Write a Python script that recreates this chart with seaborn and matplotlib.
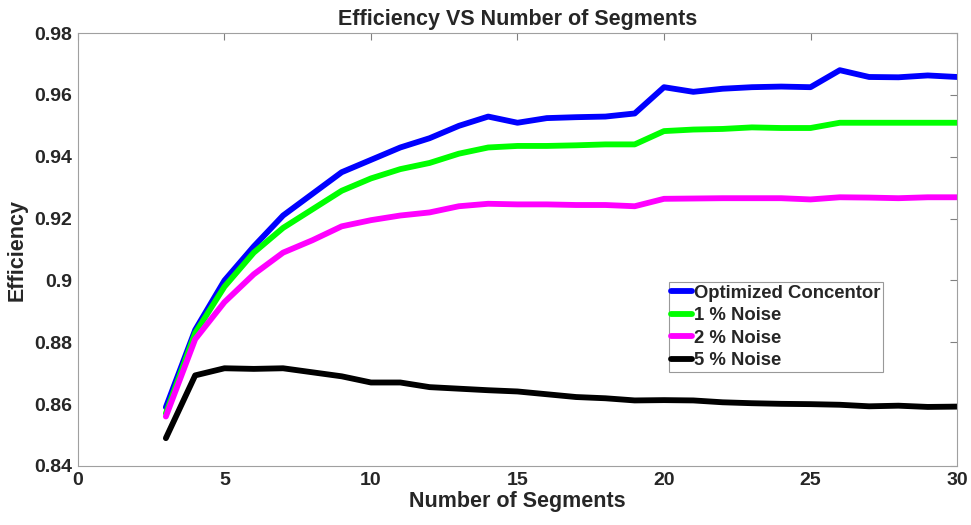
import numpy as np
import pandas as pd
import matplotlib
matplotlib.use("Agg")
import matplotlib.pyplot as plt
import seaborn as sns

segments = list(range(3, 31))
optimized = [0.859, 0.884, 0.900, 0.911, 0.921, 0.928, 0.935, 0.939, 0.943, 0.946,
             0.950, 0.953, 0.951, 0.9525, 0.9528, 0.953, 0.954, 0.9625, 0.961, 0.962,
             0.9625, 0.9627, 0.9625, 0.968, 0.9658, 0.9657, 0.9663, 0.9658]
noise1 = [0.857, 0.883, 0.898, 0.909, 0.917, 0.923, 0.929, 0.933, 0.936, 0.938,
          0.941, 0.943, 0.9435, 0.9435, 0.9437, 0.944, 0.944, 0.9483, 0.9488, 0.949,
          0.9495, 0.9493, 0.9493, 0.951, 0.951, 0.951, 0.951, 0.951]
noise2 = [0.856, 0.881, 0.893, 0.902, 0.909, 0.913, 0.9175, 0.9195, 0.921, 0.922,
          0.924, 0.9248, 0.9246, 0.9246, 0.9244, 0.9244, 0.924, 0.9264, 0.9265, 0.9266,
          0.9266, 0.9266, 0.9262, 0.9269, 0.9268, 0.9266, 0.9269, 0.9269]
noise5 = [0.849, 0.8693, 0.8716, 0.8714, 0.8716, 0.8703, 0.869, 0.867, 0.867, 0.8655,
          0.8650, 0.8645, 0.8641, 0.8632, 0.8623, 0.8619, 0.8612, 0.8613, 0.8612, 0.8606,
          0.8603, 0.8601, 0.8600, 0.8598, 0.8593, 0.8595, 0.8591, 0.8592]
series_names = ["Optimized Concentor", "1 % Noise", "2 % Noise", "5 % Noise"]
colors = ["#0000ff", "#00ff00", "#ff00ff", "#000000"]
x_ticks = [0, 5, 10, 15, 20, 25, 30]
y_ticks = [0.84, 0.86, 0.88, 0.90, 0.92, 0.94, 0.96, 0.98]
y_tick_labels = ["0.84", "0.86", "0.88", "0.9", "0.92", "0.94", "0.96", "0.98"]

frames = []
for name, vals in zip(series_names, [optimized, noise1, noise2, noise5]):
    frames.append(pd.DataFrame({"Segments": segments, "Efficiency": vals, "Series": name}))
df = pd.concat(frames, ignore_index=True)

sns.set_theme(style="white")
plt.rcParams['font.family'] = ['Liberation Sans', 'DejaVu Sans']
plt.rcParams['font.weight'] = 'bold'

fig = plt.figure(figsize=(9.71, 5.25), dpi=100)
ax = fig.add_axes([0.0803, 0.1124, 0.9053, 0.8246])

sns.lineplot(data=df, x="Segments", y="Efficiency", hue="Series",
             hue_order=series_names, palette=colors, linewidth=4.2, ax=ax)

ax.set_xlim(0, 30)
ax.set_ylim(0.84, 0.98)
ax.set_xticks(x_ticks)
ax.set_yticks(y_ticks)
ax.set_yticklabels(y_tick_labels)
ax.tick_params(direction="in", length=5, width=0.8, color="#808080",
               top=True, right=True, labelsize=14, pad=4, labelcolor="#262626")
for lab in ax.get_xticklabels() + ax.get_yticklabels():
    lab.set_fontweight("bold")
for s in ax.spines.values():
    s.set_color("#a0a0a0")
    s.set_linewidth(0.8)

ax.set_xlabel("Number of Segments", fontsize=15.5, fontweight="bold", color="#262626", labelpad=2)
ax.set_ylabel("Efficiency", fontsize=15.5, fontweight="bold", color="#262626", labelpad=5)
ax.set_title("Efficiency VS Number of Segments", fontsize=15.5, fontweight="bold", pad=6)

leg = ax.legend(loc="upper left", bbox_to_anchor=(0.672, 0.425), fontsize=13.3,
                handlelength=1.1, handletextpad=0.1, borderpad=0.15, labelspacing=0.3,
                frameon=True, fancybox=False, borderaxespad=0)
leg.get_frame().set_edgecolor("#808080")
leg.get_frame().set_linewidth(0.8)
for t in leg.get_texts():
    t.set_fontweight("bold")

fig.savefig("out.png", dpi=100)
